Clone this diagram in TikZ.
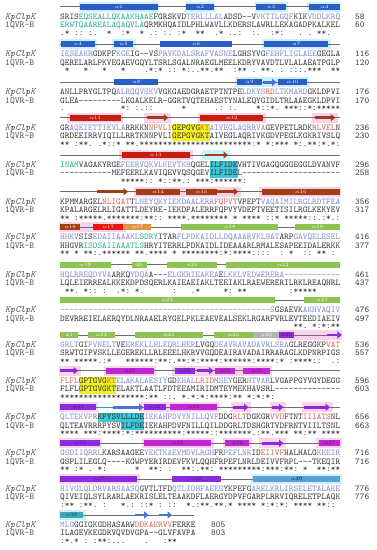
\documentclass[tikz,border=0pt]{standalone}
\usepackage{fontspec}
\usetikzlibrary{arrows.meta}
\newfontfamily\seqfont{lmmono10-regular}[Extension=.otf, ItalicFont=lmmono10-italic]
\setlength{\fboxsep}{0pt}

\definecolor{ssgray}{HTML}{6E6E6E}
\definecolor{boxblue}{HTML}{2D5CC8}
\definecolor{boxred}{HTML}{C41E0C}
\definecolor{boxbrown}{HTML}{A33E12}
\definecolor{boxbright}{HTML}{E8160C}
\definecolor{boxorange}{HTML}{E0963E}
\definecolor{boxgreen}{HTML}{8DC450}
\definecolor{boxgrey}{HTML}{B4B4B4}
\definecolor{boxviolet}{HTML}{8A2BE0}
\definecolor{boxmagenta}{HTML}{C424D8}
\definecolor{boxsky}{HTML}{5E9FD8}
\definecolor{boxteal}{HTML}{3AA6C0}
\definecolor{arrblue}{HTML}{4A72D8}
\definecolor{haloc}{HTML}{C6F4F8}
\definecolor{halop}{HTML}{FBD2EC}
\definecolor{hxtext}{HTML}{7A88D0}
\definecolor{sxtext}{HTML}{D0604E}
\definecolor{tqtext}{HTML}{22A890}
\definecolor{seqtext}{HTML}{303030}
\definecolor{nametext}{HTML}{505050}
\definecolor{walkerA}{HTML}{F2F020}
\definecolor{walkerB}{HTML}{3CC8D8}

% residue colours
\newcommand{\hx}[1]{\textcolor{hxtext}{#1}}
\newcommand{\sx}[1]{\textcolor{sxtext}{#1}}
\newcommand{\tq}[1]{\textcolor{tqtext}{#1}}
\newcommand{\wka}[1]{\colorbox{walkerA}{\rule[-2.3pt]{0pt}{8.6pt}#1}}
\newcommand{\wkb}[1]{\colorbox{walkerB}{\rule[-2.3pt]{0pt}{8.6pt}#1}}

% column width of the alignment
\newcommand{\cwd}{4.6667}
\newcommand{\halo}[4]{\fill[#4] ({60+\cwd*#2},#1-5) rectangle ({60+\cwd*#3},#1+5);}
\newcommand{\bbline}[3]{\draw[ssline] ({60+\cwd*#2},#1) -- ({60+\cwd*#3},#1);}
\newcommand{\helix}[6]{\node[hbox,#6,minimum width={(#4-#3)*\cwd}] (#1) at ({60+\cwd*(#3+#4)/2},#2) {#5};}
\newcommand{\strand}[5]{\draw[sarrow,#5] ({60+\cwd*#3},#2) coordinate (#1) -- ({60+\cwd*#4},#2);}
\newcommand{\alnblock}[8]{%
  \node[nmk] (nk#1) at (5,#2+12.3) {KpClpK};
  \node[nmq] (nq#1) at (5,#2+20.8) {1QVR-B};
  \node[seq] (sk#1) at (60,#2+12.3) {#3};
  \node[seq] (sq#1) at (60,#2+20.8) {#4};
  \node[seq] (cs#1) at (60,#2+28.5) {#5};
  \node[seq] (ek#1) at (#8,#2+12.3) {#6};
  \node[seq] (eq#1) at (#8,#2+20.8) {#7};}

\tikzset{
  seq/.style={anchor=base west, inner sep=0pt, text=seqtext, font=\seqfont\fontsize{8.89}{9}\selectfont},
  nmk/.style={anchor=base west, inner sep=0pt, text=nametext, font=\seqfont\itshape\fontsize{9.6}{10}\selectfont},
  nmq/.style={anchor=base west, inner sep=0pt, text=nametext, font=\seqfont\fontsize{9.2}{10}\selectfont},
  ssline/.style={draw=ssgray, line width=0.8pt},
  hbox/.style={draw=none, minimum height=6pt, inner sep=0pt, font=\fontsize{5}{5}\selectfont},
  hblue/.style={fill=boxblue, text=white},
  hred/.style={fill=boxred, text=white},
  hbrown/.style={fill=boxbrown, text=white},
  hbright/.style={fill=boxbright, text=white},
  horange/.style={fill=boxorange, text=white},
  hgreen/.style={fill=boxgreen, text=white},
  hgrey/.style={fill=boxgrey, text=white},
  hviolet/.style={fill=boxviolet, text=black!80},
  hmagenta/.style={fill=boxmagenta, text=black!80},
  hsky/.style={fill=boxsky, text=blue!40!black},
  hteal/.style={fill=boxteal, text=black!80},
  sarrow/.style={line width=2.6pt, -{Triangle[length=4.5pt,width=7pt]}},
  sbrown/.style={draw=boxbrown},
  sviolet/.style={draw=boxviolet},
  sblue/.style={draw=arrblue}
}

\begin{document}
\begin{tikzpicture}[x=1pt, y=-1pt]
\useasboundingbox (0,0) rectangle (376,550);

% Block 1
\halo{6.7}{4}{21.3}{haloc} \halo{6.7}{26.7}{33.3}{haloc} \halo{6.7}{41.7}{48.8}{haloc} \halo{6.7}{53}{60.3}{haloc}
\bbline{6.7}{0}{60}
\helix{b1h1}{6.7}{4.3}{20.9}{$\alpha$1}{hblue}
\helix{b1h2}{6.7}{27.1}{32.9}{$\alpha$2}{hblue}
\helix{b1h3}{6.7}{42.1}{48.4}{$\alpha$3}{hblue}
\helix{b1h4}{6.7}{53.4}{60}{$\alpha$4}{hblue}
\alnblock{1}{6.7}{SRIS\tq{EQSEALLQKAAKHAAE}FGRSKVD\hx{TERLLLAL}ADSD--V\hx{VKTILGQF}KIK\hx{VDDLKRQ}}
  {\tq{ERWTQAAREALAQAQVLA}QRMKHQAIDLPHLWAVLLKDERSLAWRLLEKAGADPKALKEL}
  {.*~::~:.~~*~~:*~~*~.:~:.~:*~~**~~.*~..:~~:.~~:*:~~~.~.~**.}{58}{60}{355}

% Block 2
\halo{44.3}{-0.3}{8}{haloc} \halo{44.3}{11.2}{16.2}{haloc} \halo{44.3}{43.3}{58}{haloc}
\bbline{44.3}{0}{60}
\helix{b2h1}{44.3}{0.2}{7.5}{$\alpha$4}{hblue}
\helix{b2h2}{44.3}{11.6}{15.7}{$\alpha$5}{hblue}
\helix{b2h3}{44.3}{21.4}{36.9}{$\alpha$6}{hblue}
\helix{b2h4}{44.3}{43.8}{57.5}{$\alpha$7}{hblue}
\alnblock{2}{44.3}{\hx{IESEAKR}GDKPF\hx{KGE}IG--VS\hx{PRVKDALSRAFVASNE}LGHSYVG\hx{FEHFLIGLAEE}GEGLA}
  {QERELARLPKVEGAEVGQYLTSRLSGALNRAEGLMEELKDRYVAVDTLVLALAEATPGLP}
  {~*~~~*~~~*~~~*~~~~.*:*~::~*:..**.**~~:**~.~**.~:~:::.***~~**}{116}{120}{355}

% Block 3
\halo{82.3}{37.5}{53.4}{haloc}
\bbline{82.3}{0}{60}
\helix{b3h1}{82.3}{11.6}{21.1}{$\alpha$8}{hblue}
\helix{b3h2}{82.3}{38}{43.2}{$\alpha$9}{hblue}
\strand{b3s1}{82.3}{43.6}{46.4}{sblue}
\helix{b3h3}{82.3}{46.8}{52.9}{$\alpha$10}{hblue}
\alnblock{3}{82.3}{ANLLPRYGLTPQ\hx{ALRQQVSKV}VGKGAEDGRAETPTNTPE\hx{LDKYS}\sx{RD}\hx{LTKMARD}GKLDPVI}
  {GLEA---------LKGALKELR-GGRTVQTEHAESTYNALEQYGIDLTRLAAEGKLDPVI}
  {.~~~~~~~~~~~~*:~:.::~~~~~~*~~~~~~.:~:.~~~~*::*.~***::*:*****}{176}{170}{355}

% Block 4
\halo{117.7}{1.6}{13.5}{halop} \halo{117.7}{18.1}{23.7}{halop} \halo{117.7}{29.5}{44.1}{halop} \halo{117.7}{54.1}{59.5}{halop}
\bbline{117.7}{0}{60}
\helix{b4h1}{117.7}{2.1}{13}{$\alpha$11}{hred}
\strand{b4s1}{117.7}{18.6}{23.2}{sbrown}
\helix{b4h2}{117.7}{30}{43.6}{$\alpha$12}{hred}
\strand{b4s2}{117.7}{54.6}{59}{sbrown}
\alnblock{4}{117.7}{GR\hx{AQEIETTIEVLA}RRKKN\sx{NPVLI}\wka{GEPGVG\sx{KT}}\hx{AIVEGLAQRRVA}GEVPETLRDK\sx{RLVEL}N}
  {GRDEEIRRVIQILLRRTKNNPVLI\wka{GEPGVGKT}AIVEGLAQRIVKGDVPEGLKGKRIVSLQ}
  {**~:**.~.*::*~**.************************:*~*:***~*:.**:*.*:}{236}{230}{355}

% Block 5
\halo{155}{12.7}{28.4}{halop} \halo{155}{30.5}{36.5}{haloc}
\bbline{155}{0}{60}
\helix{b5h1}{155}{13.2}{27.9}{$\alpha$13}{hred}
\strand{b5s1}{155}{31}{36}{sbrown}
\alnblock{5}{155}{\tq{INAM}VAGAKYRGE\hx{FEERVQKVLKEVTKH}QGEL\wkb{ILFIDE}VHTIVGAGQGGGEGGLDVANVF}
  {-----------MEFEERLKAVIQEVVQSQGEV\wkb{ILFIDE}L---------------------}
  {~~~~~~~~~~~~~*****::~*::**.:~***:******:}{296}{258}{355}

% Block 6
\halo{191.7}{15.8}{38.7}{halop} \halo{191.7}{42.7}{60.3}{halop}
\bbline{191.7}{0}{60}
\strand{b6s1}{191.7}{7.9}{14.6}{sbrown}
\helix{b6h1}{191.7}{16.3}{25.7}{$\alpha$14}{hbrown}
\helix{b6h2}{191.7}{27.1}{33.6}{$\alpha$15}{hbrown}
\strand{b6s2}{191.7}{33.6}{38.2}{sbrown}
\helix{b6h3}{191.7}{43.2}{60}{$\alpha$16}{hbrown}
\alnblock{6}{191.7}{KPMMARGEL\sx{NLIGAT}T\hx{LNEYQKYIEKDAALERR}\sx{FQPVT}VPEPT\hx{VAQAIMILRGLRDTFEA}}
  {KPALARGELRLIGATTLDEYRE-IEKDPALERRFQPVYVDEPTVEETISILRGLKEKYEV}
  {**~:*****.*******:**::~****.********~*~****~::*~*****::.:*.:}{356}{317}{355}

% Block 7
\halo{227.3}{-0.3}{14.1}{halop}
\bbline{227.3}{0}{60}
\helix{b7h1}{227.3}{0}{4.3}{$\alpha$16}{hbrown}
\helix{b7h2}{227.3}{7.1}{13.6}{$\alpha$17}{hbright}
\helix{b7h3}{227.3}{13.6}{19.6}{$\alpha$17}{horange}
\helix{b7h4}{227.3}{26}{46.8}{$\alpha$18}{hgreen}
\helix{b7h5}{227.3}{50.4}{60}{$\alpha$19}{hgreen}
\alnblock{7}{227.3}{\hx{HHKV}SIS\hx{EDAIIAAAKL}\tq{SDRY}ITAR\hx{FLPDKAIDLLDQAAARVKLSAT}ARP\hx{GAVQELESEL}}
  {HHGVR\tq{ISDSAIIAAATLS}HRYITERRLPDKAIDLIDEAAARLRMALESAPEEIDALERKK}
  {**~*~**:.******~**.****~*~********:*:****::::~~:~*~~::~**~:~}{416}{377}{355}

% Block 8
\bbline{264.7}{0}{60}
\helix{b8h1}{264.7}{0}{10.9}{$\alpha$19}{hgreen}
\helix{b8h2}{264.7}{15.4}{18.6}{20}{hgreen}
\helix{b8h3}{264.7}{22.9}{33.7}{$\alpha$21}{hgreen}
\helix{b8h4}{264.7}{35.6}{60}{$\alpha$22}{hgreen}
\alnblock{8}{264.7}{\hx{HQLRREQDYVA}ARKQ\hx{YDQA}A---\hx{ELGKRIEAKEA}E\hx{LKKLVEDWERERA------------}}
  {LQLEIERREALKKEKDPDSQERLKAIEAEIAKLTEEIAKLRAEWERERILRKLREAQHRL}
  {~**.~*::~:~~.*:~*.~~~~~~:~~~.*~~~~~*:~**~~~~~~~~~:*****}{461}{437}{355}

% Block 9
\bbline{300.3}{0}{60}
\helix{b9h1}{300.3}{0}{46}{$\alpha$22}{hgreen}
\helix{b9h2}{300.3}{52.3}{60}{$\alpha$23}{hgreen}
\alnblock{9}{300.3}{\hx{---------------------------------------------S}GSAEVK\hx{AKHVAQIV}}
  {DEVRREIELAERQYDLNRAAELRYGELPKLEAEVEALSEKLRGARFVRLEVTEEDIAEIV}
  {~~~~~~~~~~~~~~~~~~~~~~~~~~~~~~~~~~~~~~~~~~~~~~~~~~**.~*:*:**}{476}{497}{355}

% Block 10
\halo{335}{46.5}{60.5}{halop}
\bbline{335}{0}{60}
\helix{b10h1}{335}{0}{3.9}{23}{hgreen}
\helix{b10h2}{335}{5.9}{11.8}{$\alpha$24}{hgreen}
\helix{b10h3}{335}{16}{30.7}{$\alpha$25}{hgreen}
\helix{b10h4}{335}{33}{41.4}{$\alpha$26}{hgreen}
\helix{b10h5}{335}{41.4}{47}{$\alpha$26}{hgrey}
\helix{b10h6}{335}{47}{50.1}{$\alpha$26}{hviolet}
\strand{b10s1}{335}{57.3}{60.4}{sviolet}
\alnblock{10}{335}{\hx{SRLT}GI\hx{PVNELT}VE\hx{EREKLLHLEQRLHER}LVGQ\hx{DEAVRAVADAVRLSRA}GLREGGKP\sx{VAT}}
  {SRWTGIPVSKLLEGEREKLLRLEEELHKRVVGQDEAIRAVADAIRRARAGLKDPNRPIGS}
  {**~*****.:*~~~******:**:.**:*:****:******:****:*~:****::~~.:}{536}{557}{355}

% Block 11
\halo{370.7}{-0.3}{4.4}{halop} \halo{370.7}{9.4}{20.6}{halop} \halo{370.7}{24.1}{45.5}{halop}
\bbline{370.7}{0}{60}
\strand{b11s1}{370.7}{0}{3.9}{sviolet}
\helix{b11h1}{370.7}{9.9}{20.1}{$\alpha$27}{hmagenta}
\helix{b11h2}{370.7}{24.6}{28.9}{$\alpha$28}{hviolet}
\strand{b11s2}{370.7}{29.3}{32.9}{sviolet}
\helix{b11h3}{370.7}{33.2}{37.5}{$\alpha$29}{hmagenta}
\helix{b11h4}{370.7}{39.3}{45}{$\alpha$30}{hmagenta}
\alnblock{11}{370.7}{\sx{FLFL}\wka{GPTGVG\sx{KT}}\hx{ELAKALAESIY}GD\hx{EHAL}\sx{LRID}\hx{MSEY}GER\hx{HTVAR}LVGAPPGYVGYDEGG}
  {FLFL\wka{GPTGVGKT}ELAKTLAATLFDTEEAMIRIDMTEYMEKHAVSRL--------------}
  {******************:**~::.~*.*:*:****:**~*:*:*:}{596}{603}{355}

% Block 12
\halo{407.3}{-0.3}{8.2}{halop} \halo{407.3}{17.4}{34.1}{halop} \halo{407.3}{36.6}{40.9}{halop}
\halo{407.3}{44.9}{48.4}{halop} \halo{407.3}{51.8}{58.4}{halop}
\bbline{407.3}{0}{60}
\draw[ssline, draw=tqtext] ({60+\cwd*7.7},407.3) -- ({60+\cwd*11.4},407.3);
\helix{b12h1}{407.3}{0}{7.7}{$\alpha$31}{hviolet}
\strand{b12s1}{407.3}{11.4}{17.9}{sblue}
\helix{b12h2}{407.3}{17.9}{22.7}{$\alpha$32}{hviolet}
\helix{b12h3}{407.3}{23.6}{33.6}{$\alpha$33}{hmagenta}
\strand{b12s2}{407.3}{37.1}{40.4}{sviolet}
\strand{b12s3}{407.3}{45.4}{47.9}{sviolet}
\strand{b12s4}{407.3}{52.3}{57.9}{sviolet}
\alnblock{12}{407.3}{\hx{QLTEKVP}\sx{R}\wkb{KPYSVLLLDE}\hx{IEKAH}\hx{PDVYNILLQVF}DDG\sx{RLT}DGKGR\sx{VVD}FTNT\sx{IIIATS}NL}
  {QLTEAVRRRPYSV\wkb{ILFDE}IEKAHPDVFNILLQILDDGRLTDSHGRTVDFRNTVIILTSNL}
  {****~***:****:*:**********:*****::*******.:**.***~**:**~****}{656}{663}{355}

% Block 13
\halo{443.3}{-0.3}{9.1}{halop} \halo{443.3}{17.5}{32.9}{halop} \halo{443.3}{34.9}{41.1}{halop}
\halo{443.3}{42.7}{48.4}{halop} \halo{443.3}{54.9}{60.5}{halop}
\bbline{443.3}{0}{60}
\helix{b13h1}{443.3}{0}{8.6}{$\alpha$34}{hviolet}
\helix{b13h2}{443.3}{18}{32.4}{$\alpha$35}{hmagenta}
\helix{b13h3}{443.3}{35.4}{40.6}{$\alpha$36}{hmagenta}
\strand{b13s1}{443.3}{43.2}{47.9}{sviolet}
\helix{b13h4}{443.3}{55.4}{60}{$\alpha$37}{hmagenta}
\alnblock{13}{443.3}{\hx{GSDIIQRRL}KARSAAGEE\hx{YEKTKAEVMDVLRGH}FR\hx{PEFLNR}ID\sx{EIIVF}HALHALG\hx{KEEIR}}
  {GSPLILEGLQ----KGWPYERIRDEVFKVLQQHFRPEFLNRLDEIVVFRPL---TKEQIR}
  {**~:*~.~*:~~~~~~*~~**:~:~~**:.**:~*********:***:**:~*~~**:**}{716}{716}{355}

% Block 14
\halo{479}{-0.3}{17.1}{halop} \halo{479}{40.9}{60.5}{haloc}
\bbline{479}{0}{60}
\helix{b14h1}{479}{0}{16.6}{$\alpha$37}{hviolet}
\helix{b14h2}{479}{23.9}{34.6}{$\alpha$38}{hviolet}
\helix{b14h3}{479}{41.4}{60}{$\alpha$39}{hsky}
\alnblock{14}{479}{\hx{HIVGLQLDRVARSAASQ}GVTLTFD\hx{QTLIDHFAEEG}YKPEFG\hx{ARELKRLIRSELETALAKE}}
  {QIVEIQLSYLRARLAEKRISLELTEAAKDFLAERGYDPVFGARPLRRVIQRELETPLAQK}
  {:**~:**.~:~~~*.:~::*~:~::~~*.:**.**.*~****~*:*:*:~****~**::}{776}{776}{355}

% Block 15
\halo{515}{-0.3}{5.5}{haloc}
\bbline{515}{0}{28.7}
\helix{b15h1}{515}{0}{5}{$\alpha$39}{hteal}
\strand{b15s1}{515}{16}{19}{sblue}
\strand{b15s2}{515}{21.3}{24}{sblue}
\alnblock{15}{515}{\hx{MLG}GGIGKGDHASARW\sx{DDKAE}\sx{RVV}FERKE}
  {ILAGEVKEGDRVQVDVGPA--GLVFAVPA}
  {:*.*~:~:**:...~~~~.~~~:**}{805}{803}{211}
\end{tikzpicture}
\end{document}
